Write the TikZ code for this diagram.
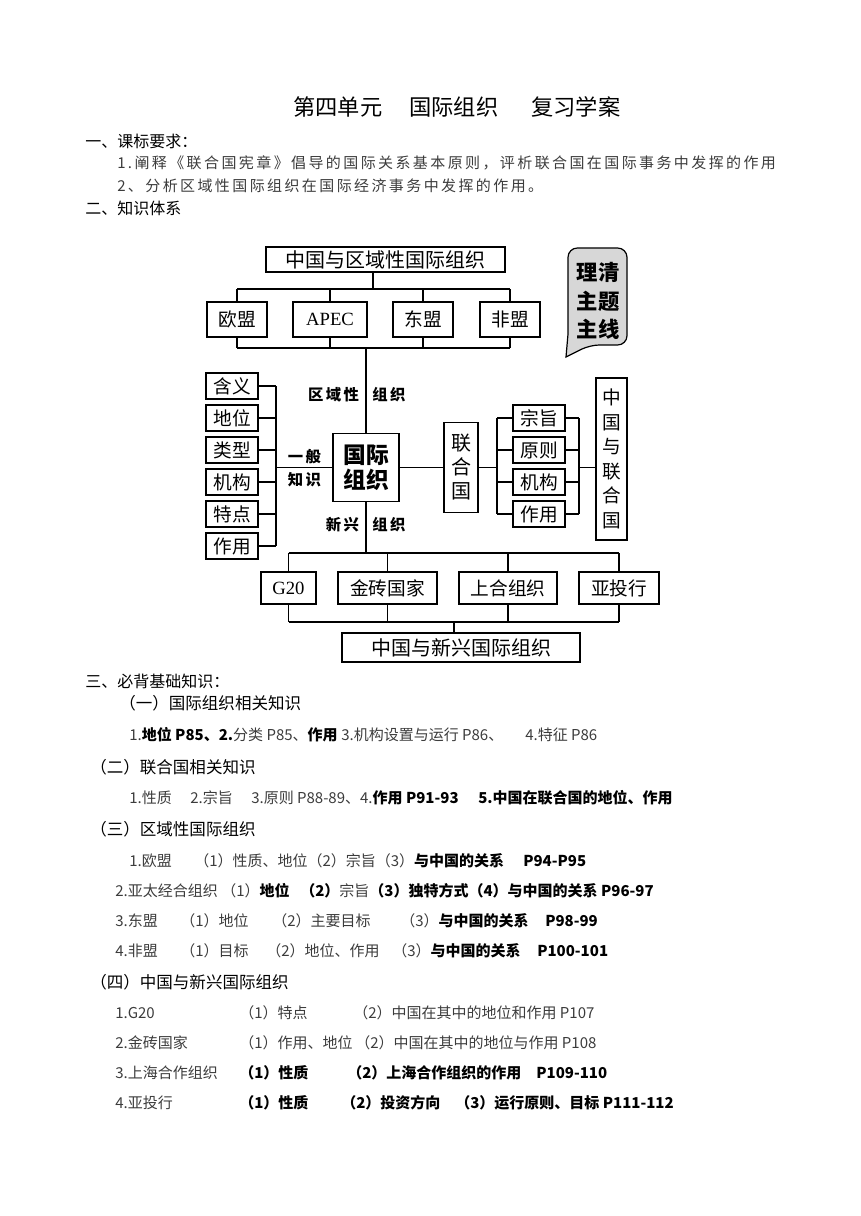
\documentclass[tikz,border=0pt]{standalone}
\usepackage{fontspec}
\setmainfont{Noto Sans CJK SC}
\newfontfamily\romanf{Liberation Serif}
\newfontfamily\spacedf[LetterSpace=16]{Noto Sans CJK SC}
\usetikzlibrary{positioning,calc}
\definecolor{bubblegray}{RGB}{215,215,215}
\definecolor{bodytxt}{RGB}{60,60,60}
\newcommand\bdtxt[1]{{\bfseries\color{black}#1}}

\begin{document}
\begin{tikzpicture}[x=0.75pt,y=-0.75pt,
    blk/.style={rectangle,draw,line width=0.9pt,inner sep=0pt,font=\fontsize{14}{16}\selectfont},
    ln/.style={line width=0.8pt},
    lbl/.style={inner sep=0pt,font=\fontsize{11.5}{13}\selectfont\bfseries},
    ttl/.style={anchor=west,inner sep=0pt,font=\fontsize{16.7}{18}\selectfont},
    hd/.style={anchor=west,inner sep=0pt,font=\fontsize{12}{14}\selectfont},
    sub/.style={anchor=west,inner sep=0pt,font=\fontsize{12.4}{14}\selectfont},
    req/.style={anchor=west,inner sep=0pt,font=\fontsize{11.25}{13}\selectfont\spacedf,text=bodytxt},
    txt/.style={anchor=west,inner sep=0pt,font=\fontsize{11.25}{13}\selectfont,text=bodytxt},
    btxt/.style={anchor=west,inner sep=0pt,font=\fontsize{11.25}{13}\selectfont\bfseries},
]
\useasboundingbox (0,0) rectangle (860,1216);

\node[ttl] (t1) at (293,107) {第四单元};
\node[ttl] (t2) at (409,107) {国际组织};
\node[ttl] (t3) at (531,107) {复习学案};
\node[hd] (h1) at (85,141) {一、课标要求：};
\node[req] (r1) at (117,163) {1.阐释《联合国宪章》倡导的国际关系基本原则，评析联合国在国际事务中发挥的作用};
\node[req] (r2) at (117,186) {2、分析区域性国际组织在国际经济事务中发挥的作用。};
\node[hd] (h2) at (85,208) {二、知识体系};

\node[blk,minimum width=179.25pt,minimum height=18.75pt,font=\fontsize{15}{17}\selectfont] (reg) at (385.5,259.5) {中国与区域性国际组织};
\node[blk,minimum width=45pt,minimum height=26.25pt] (eu) at (237,319.5) {欧盟};
\node[blk,minimum width=55.5pt,minimum height=26.25pt,font=\fontsize{14}{16}\selectfont\romanf] (apec) at (330,319.5) {APEC};
\node[blk,minimum width=45pt,minimum height=26.25pt] (asean) at (423,319.5) {东盟};
\node[blk,minimum width=45pt,minimum height=26.25pt] (au) at (510,319.5) {非盟};
\coordinate (rj) at (373,289);
\coordinate (rb) at (366,348);
\draw[ln] (reg.south -| rj) -- (rj);
\draw[ln] (eu.north |- rj) -- (au.north |- rj);
\draw[ln] (eu.south |- rb) -- (au.south |- rb);
\foreach \n in {eu,apec,asean,au}{
  \draw[ln] (\n.north) -- (\n.north |- rj);
  \draw[ln] (\n.south) -- (\n.south |- rb);
}

\draw[line width=0.9pt,fill=bubblegray,rounded corners=7pt] (597,248) -- (627,248) -- (627,345) -- (590,345) [sharp corners] -- (566,357) -- (568,334) [rounded corners=7pt] -- (568,248) -- cycle;
\node[inner sep=0pt,align=center,font=\fontsize{16}{21.5}\selectfont\bfseries] (motto) at (598,301) {理\hspace{1pt}清\\主\hspace{1pt}题\\主\hspace{1pt}线};

\node[blk,minimum width=49.5pt,minimum height=51pt,align=center,font=\fontsize{17}{19}\selectfont\bfseries] (org) at (366,467.5) {国际\\组织};
\foreach \lab [count=\i] in {含义,地位,类型,机构,特点,作用}
  \node[blk,minimum width=39pt,minimum height=19.5pt] (k\i) at (232,354+32*\i) {\lab};
\coordinate (kj) at (276,467.5);
\foreach \i in {1,...,6}
  \draw[ln] (k\i.east) -- (k\i.east -| kj);
\draw[ln] (k1.east -| kj) -- (k6.east -| kj);
\draw[ln] (kj) -- (org.west);
\draw[ln] (org.north) -- (org.north |- rb);

\node[lbl] (lr1) at (333.5,395) {区\hspace{1.8pt}域\hspace{1.8pt}性};
\node[lbl] (lr2) at (389,395) {组\hspace{1.8pt}织};
\node[lbl] (lg1) at (304.5,457) {一\hspace{1.8pt}般};
\node[lbl] (lg2) at (304.5,480) {知\hspace{1.8pt}识};
\node[lbl] (ln1) at (342.5,525) {新\hspace{1.8pt}兴};
\node[lbl] (ln2) at (389,525) {组\hspace{1.8pt}织};

\node[blk,minimum width=25.5pt,minimum height=67.5pt,align=center,font=\fontsize{15}{18}\selectfont] (un) at (461,467.5) {联\\合\\国};
\draw[ln] (org.east) -- (un.west);
\foreach \lab [count=\i] in {宗旨,原则,机构,作用}
  \node[blk,minimum width=39pt,minimum height=19.5pt] (u\i) at (539,386+32*\i) {\lab};
\coordinate (uj) at (497,467.5);
\coordinate (cj) at (579,467.5);
\draw[ln] (un.east) -- (uj);
\draw[ln] (u1.west -| uj) -- (u4.west -| uj);
\draw[ln] (u1.east -| cj) -- (u4.east -| cj);
\foreach \i in {1,...,4}{
  \draw[ln] (u\i.west) -- (u\i.west -| uj);
  \draw[ln] (u\i.east) -- (u\i.east -| cj);
}
\node[blk,minimum width=23.25pt,minimum height=121.5pt,align=center,font=\fontsize{14}{18.4}\selectfont] (cnun) at (611.5,459) {中\\国\\与\\联\\合\\国};
\draw[ln] (cj) -- (cnun.west |- cj);

\node[blk,minimum width=41.25pt,minimum height=24pt,font=\fontsize{14}{16}\selectfont\romanf] (g20) at (288.5,588) {G20};
\node[blk,minimum width=74.25pt,minimum height=24pt] (brics) at (387.5,588) {金砖国家};
\node[blk,minimum width=73.5pt,minimum height=24pt] (sco) at (508,588) {上合组织};
\node[blk,minimum width=60pt,minimum height=24pt] (aiib) at (619,588) {亚投行};
\node[blk,minimum width=178.5pt,minimum height=21.75pt,font=\fontsize{15}{17}\selectfont] (emg) at (461,647.5) {中国与新兴国际组织};
\coordinate (nj) at (366,553);
\coordinate (nb) at (454,622);
\draw[ln] (org.south) -- (org.south |- nj);
\draw[ln] (g20.north |- nj) -- (aiib.north |- nj);
\draw[ln] (g20.south |- nb) -- (aiib.south |- nb);
\foreach \n in {g20,brics,sco,aiib}{
  \draw[ln] (\n.north) -- (\n.north |- nj);
  \draw[ln] (\n.south) -- (\n.south |- nb);
}
\draw[ln] (nb) -- (emg.north -| nb);

\node[hd] (h3) at (85,681) {三、必背基础知识：};
\node[sub] (s1) at (119,703) {（一）国际组织相关知识};
\node[txt] (s1a) at (129,735) {1.\bdtxt{地位 P85、2.}分类 P85、\bdtxt{作用}};
\node[txt] (s1b) at (341,735) {3.机构设置与运行 P86、};
\node[txt] (s1c) at (525,735) {4.特征 P86};

\node[sub] (s2) at (90,767) {（二）联合国相关知识};
\node[txt] (s2a) at (129,798) {1.性质};
\node[txt] (s2b) at (190,798) {2.宗旨};
\node[txt] (s2c) at (251,798) {3.原则 P88-89、4.\bdtxt{作用 P91-93}};
\node[btxt] (s2d) at (478,798) {5.中国在联合国的地位、作用};

\node[sub] (s3) at (90,829) {（三）区域性国际组织};
\node[txt] (s3a) at (129,861) {1.欧盟};
\node[txt] (s3b) at (194,861) {（1）性质、地位（2）宗旨（3）\bdtxt{与中国的关系}};
\node[btxt] (s3c) at (523,861) {P94-P95};
\node[txt] (s3d) at (115,891) {2.亚太经合组织};
\node[txt] (s3e) at (221,891) {（1）\bdtxt{地位}};
\node[txt] (s3f) at (300,891) {\bdtxt{（2）}宗旨\bdtxt{（3）独特方式（4）与中国的关系 P96-97}};
\node[txt] (s3g) at (115,921) {3.东盟};
\node[txt] (s3h) at (180,921) {（1）地位};
\node[txt] (s3i) at (272,921) {（2）主要目标};
\node[txt] (s3j) at (400,921) {（3）\bdtxt{与中国的关系}};
\node[btxt] (s3k) at (545,921) {P98-99};
\node[txt] (s3l) at (115,951) {4.非盟};
\node[txt] (s3m) at (180,951) {（1）目标};
\node[txt] (s3n) at (266,951) {（2）地位、作用};
\node[txt] (s3o) at (392,951) {（3）\bdtxt{与中国的关系}};
\node[btxt] (s3p) at (537,951) {P100-101};

\node[sub] (s4) at (90,982) {（四）中国与新兴国际组织};
\node[txt] (s4a) at (115,1013) {1.G20};
\node[txt] (s4b) at (239,1013) {（1）特点};
\node[txt] (s4c) at (353,1013) {（2）中国在其中的地位和作用 P107};
\node[txt] (s4d) at (115,1043) {2.金砖国家};
\node[txt] (s4e) at (239,1043) {（1）作用、地位};
\node[txt] (s4f) at (355,1043) {（2）中国在其中的地位与作用 P108};
\node[txt] (s4g) at (115,1073) {3.上海合作组织};
\node[btxt] (s4h) at (239,1073) {（1）性质};
\node[btxt] (s4i) at (347,1073) {（2）上海合作组织的作用\quad P109-110};
\node[txt] (s4j) at (115,1103) {4.亚投行};
\node[btxt] (s4k) at (239,1103) {（1）性质};
\node[btxt] (s4l) at (341,1103) {（2）投资方向};
\node[btxt] (s4m) at (455,1103) {（3）运行原则、目标 P111-112};
\end{tikzpicture}
\end{document}
